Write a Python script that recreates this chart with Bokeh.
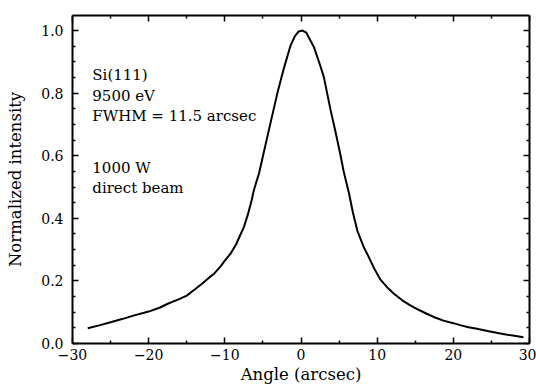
from bokeh.plotting import figure
from bokeh.models import LinearAxis, Range1d, CustomJSTickFormatter, FixedTicker, ColumnDataSource
from bokeh.core.properties import value
from bokeh.embed import file_html
from bokeh.resources import INLINE

angle = [-28, -26.5, -25, -23.5, -22, -20, -18.5, -17.5, -16, -15, -14, -13, -12, -11.4,
         -10.5, -10, -9.25, -8.5, -8, -7.5, -7, -6.5, -6.2, -5.5, -4.8, -4, -3.1, -2.3,
         -1.4, -0.8, -0.3, 0.2, 0.7, 1.2, 1.7, 2.5, 3.0, 3.9, 4.5, 5.2, 5.6, 6.3, 6.8,
         7.4, 8.2, 8.9, 9.6, 10.4, 11.3, 12.2, 13.3, 14.4, 15.5, 16.5, 17.6, 18.7, 20,
         21, 22, 23.1, 24.5, 26, 27.6, 29.2]
intensity = [0.049, 0.058, 0.068, 0.078, 0.089, 0.102, 0.115, 0.127, 0.142, 0.153, 0.172, 0.191, 0.212, 0.223,
             0.248, 0.265, 0.287, 0.318, 0.345, 0.372, 0.41, 0.455, 0.489, 0.545, 0.62, 0.705, 0.80, 0.875,
             0.95, 0.982, 0.997, 1.0, 0.993, 0.97, 0.947, 0.89, 0.851, 0.744, 0.68, 0.60, 0.55, 0.48, 0.42,
             0.36, 0.31, 0.276, 0.24, 0.205, 0.18, 0.159, 0.138, 0.121, 0.107, 0.095, 0.083, 0.073, 0.065,
             0.058, 0.052, 0.047, 0.040, 0.033, 0.026, 0.020]

x_ticks = [-30, -20, -10, 0, 10, 20, 30]
x_minor = [-25, -15, -5, 5, 15, 25]
y_ticks = [0.0, 0.2, 0.4, 0.6, 0.8, 1.0]
y_minor = [0.05, 0.1, 0.15, 0.25, 0.3, 0.35, 0.45, 0.5, 0.55, 0.65, 0.7, 0.75, 0.85, 0.9, 0.95]

annot_text = ["Si(111)", "9500 eV", "FWHM = 11.5 arcsec", "1000 W", "direct beam"]
annot_x = [-27.4, -27.4, -27.4, -27.4, -27.4]
annot_y = [0.859, 0.790, 0.726, 0.562, 0.498]

FONT = "DejaVu Serif"

p = figure(frame_width=457, frame_height=328, output_backend="svg", toolbar_location=None,
           x_range=Range1d(-30, 30), y_range=Range1d(0, 1.048),
           min_border_left=72, min_border_top=15, min_border_right=7, min_border_bottom=46,
           x_axis_label="Angle (arcsec)", y_axis_label="Normalized intensity")
p.background_fill_color = "white"
p.border_fill_color = "white"
p.outline_line_color = None
p.xgrid.visible = False
p.ygrid.visible = False

p.line(angle, intensity, line_color="black", line_width=2)

src = ColumnDataSource(dict(x=annot_x, y=annot_y, t=annot_text))
p.text(x="x", y="y", text="t", source=src, text_font=value(FONT), text_font_size="15px",
       text_baseline="alphabetic", text_align="left", text_color="black")

xfmt = CustomJSTickFormatter(code="return tick < 0 ? '\u2212' + Math.abs(tick).toFixed(0) : tick.toFixed(0);")
yfmt = CustomJSTickFormatter(code="return tick.toFixed(1);")
blank = CustomJSTickFormatter(code="return '';")

def style(ax):
    ax.axis_line_width = 2
    ax.axis_line_color = "black"
    ax.major_tick_in = 6
    ax.major_tick_out = 0
    ax.minor_tick_in = 3
    ax.minor_tick_out = 0
    ax.major_tick_line_width = 1.5
    ax.minor_tick_line_width = 1.5
    ax.major_tick_line_color = "black"
    ax.minor_tick_line_color = "black"
    ax.major_label_text_font = FONT
    ax.major_label_text_font_size = "14px"
    ax.major_label_text_color = "black"
    ax.axis_label_text_font = FONT
    ax.axis_label_text_font_size = "16.5px"
    ax.axis_label_text_font_style = "normal"
    ax.axis_label_text_color = "black"

xt = FixedTicker(ticks=x_ticks, minor_ticks=x_minor)
yt = FixedTicker(ticks=y_ticks, minor_ticks=y_minor)

p.xaxis.ticker = xt
p.xaxis.formatter = xfmt
p.yaxis.ticker = yt
p.yaxis.formatter = yfmt
style(p.xaxis[0])
style(p.yaxis[0])
p.xaxis.major_label_standoff = 5
p.xaxis.axis_label_standoff = 2
p.yaxis.major_label_standoff = 9
p.yaxis.axis_label_standoff = 13

top = LinearAxis(ticker=xt, formatter=blank, major_label_standoff=0)
style(top)
p.add_layout(top, "above")
right = LinearAxis(ticker=yt, formatter=blank, major_label_standoff=0)
style(right)
p.add_layout(right, "right")

open("out.html", "w").write(file_html(p, INLINE))
